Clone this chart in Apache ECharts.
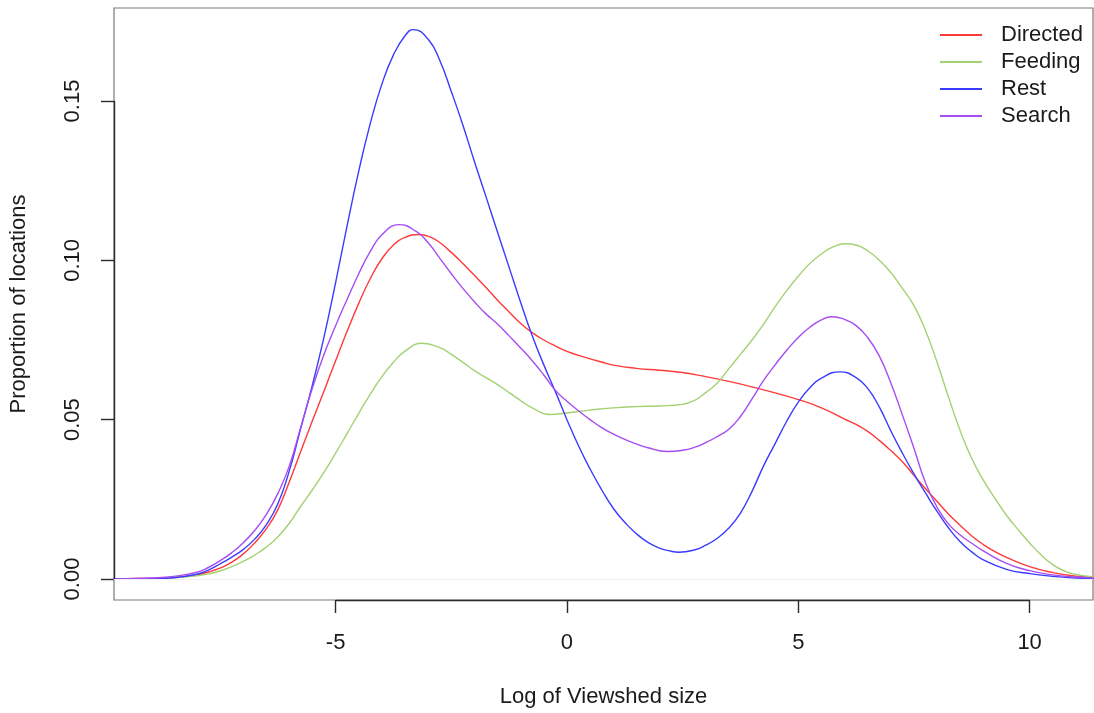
<!DOCTYPE html>
<html>
<head>
<meta charset="utf-8">
<script src="https://cdn.jsdelivr.net/npm/echarts@6/dist/echarts.min.js"></script>
<style>
  html, body { margin: 0; padding: 0; background: #fff; }
  #chart { width: 1094px; height: 713px; }
</style>
</head>
<body>
<div id="chart"></div>
<script>
// Kernel density estimates of log viewshed size, one curve per behaviour state.
// Each curve keeps its own sample positions so that its peaks and troughs are sampled exactly.
const directedX = [-10, -9.5, -9, -8.5, -8, -7.75, -7.5, -7.25, -7, -6.75, -6.5, -6.25, -6, -5.75, -5.5, -5.25, -5, -4.75, -4.5, -4.25, -4, -3.75, -3.5,
                   -3.2, -3, -2.75, -2.5, -2.25, -2, -1.75, -1.5, -1.25, -1, -0.75, -0.5, -0.25, 0, 0.25, 0.5, 0.75, 1,
                   1.5, 2, 2.5, 3, 3.5, 4, 4.5, 5, 5.5, 6,
                   6.25, 6.5, 6.75, 7, 7.25, 7.5, 7.75, 8, 8.25, 8.5, 8.75, 9, 9.25, 9.5, 10, 10.5, 11, 11.5];
const directedY = [0, 0.0001, 0.0002, 0.0005, 0.0013, 0.0022, 0.0034, 0.0052, 0.0078, 0.0113, 0.0157, 0.0217, 0.0305, 0.0402, 0.0497, 0.0590, 0.0685, 0.0778, 0.0865, 0.0943, 0.1005, 0.1048, 0.1072,
                   0.1081, 0.1076, 0.1056, 0.1025, 0.0990, 0.0953, 0.0915, 0.0875, 0.0838, 0.0802, 0.0773, 0.0750, 0.0731, 0.0714, 0.0702, 0.0691, 0.0681, 0.0671,
                   0.0661, 0.0655, 0.0648, 0.0635, 0.0620, 0.0603, 0.0584, 0.0563, 0.0537, 0.0502,
                   0.0485, 0.0463, 0.0435, 0.0403, 0.0368, 0.0325, 0.0283, 0.0243, 0.0203, 0.0168, 0.0135, 0.0108, 0.0086, 0.0068, 0.0039, 0.0020, 0.0009, 0.0004];

const feedingX = [-10, -9.5, -9, -8.5, -8, -7.75, -7.5, -7.25, -7, -6.75, -6.5, -6.25, -6, -5.75, -5.5, -5.25, -5, -4.75, -4.5, -4.25, -4, -3.75, -3.5,
                  -3.13, -2.75, -2.5, -2.25, -2, -1.75, -1.5, -1.25, -1, -0.75, -0.37, 0, 0.5, 1, 1.5, 2, 2.5,
                  2.75, 3, 3.25, 3.5, 3.75, 4, 4.25, 4.5, 4.75, 5, 5.25, 5.5, 5.75, 6.01,
                  6.25, 6.5, 6.75, 7, 7.25, 7.5, 7.75, 8, 8.25, 8.5, 8.75, 9, 9.25, 9.5, 9.75, 10, 10.25, 10.5, 10.75, 11, 11.5];
const feedingY = [0, 0, 0.0001, 0.0004, 0.0010, 0.0016, 0.0025, 0.0038, 0.0055, 0.0075, 0.0100, 0.0132, 0.0175, 0.0229, 0.0280, 0.0335, 0.0395, 0.0457, 0.0520, 0.0580, 0.0635, 0.0680, 0.0715,
                  0.0740, 0.0726, 0.0705, 0.0680, 0.0654, 0.0632, 0.0610, 0.0585, 0.0560, 0.0537, 0.0516, 0.0521, 0.0530, 0.0537, 0.0541, 0.0543, 0.0548,
                  0.0560, 0.0585, 0.0615, 0.0660, 0.0705, 0.0750, 0.0800, 0.0855, 0.0905, 0.0950, 0.0990, 0.1020, 0.1042, 0.1052,
                  0.1048, 0.1030, 0.1000, 0.0962, 0.0912, 0.0858, 0.0780, 0.0680, 0.0570, 0.0465, 0.0378, 0.0310, 0.0253, 0.0200, 0.0155, 0.0113, 0.0075, 0.0045, 0.0025, 0.0014, 0.0005];

const restX = [-10, -9.5, -9, -8.5, -8, -7.75, -7.5, -7.25, -7, -6.75, -6.5, -6.25, -6, -5.75, -5.5, -5.25, -5, -4.75, -4.5, -4.25, -4, -3.75, -3.5,
               -3.32, -3, -2.75, -2.5, -2.25, -2, -1.75, -1.5, -1.25, -1, -0.75, -0.5, -0.25, 0, 0.25, 0.5, 0.75, 1, 1.25, 1.5, 1.75, 2, 2.25,
               2.42, 2.75, 3, 3.25, 3.5, 3.75, 4, 4.25, 4.5, 4.75, 5, 5.25, 5.5,
               5.9, 6.25, 6.5, 6.75, 7, 7.25, 7.5, 7.75, 8, 8.25, 8.5, 8.75, 9, 9.5, 10, 10.5, 11, 11.5];
const restY = [0, 0, 0.0001, 0.0004, 0.0015, 0.0028, 0.0047, 0.0068, 0.0092, 0.0125, 0.0170, 0.0235, 0.0340, 0.0475, 0.0610, 0.0760, 0.0930, 0.1110, 0.1280, 0.1430, 0.1553, 0.1645, 0.1705,
               0.1724, 0.1694, 0.1628, 0.1530, 0.1425, 0.1310, 0.1200, 0.1088, 0.0978, 0.0868, 0.0763, 0.0672, 0.0588, 0.0500, 0.0418, 0.0345, 0.0280, 0.0222, 0.0178, 0.0142, 0.0115, 0.0097, 0.0087,
               0.0084, 0.0091, 0.0106, 0.0128, 0.0160, 0.0207, 0.0275, 0.0355, 0.0425, 0.0495, 0.0555, 0.0600, 0.0630,
               0.0650, 0.0632, 0.0598, 0.0540, 0.0465, 0.0395, 0.0330, 0.0270, 0.0212, 0.0160, 0.0117, 0.0085, 0.0060, 0.0030, 0.0017, 0.0008, 0.0003, 0.0001];

const searchX = [-10, -9.5, -9, -8.5, -8, -7.75, -7.5, -7.25, -7, -6.75, -6.5, -6.25, -6, -5.75, -5.5, -5.25, -5, -4.75, -4.5, -4.25, -4,
                 -3.63, -3.25, -3, -2.75, -2.5, -2.25, -2, -1.75, -1.5, -1.25, -1, -0.75, -0.5, -0.25, 0, 0.25, 0.5, 0.75, 1, 1.25, 1.5, 1.75,
                 2.16, 2.5, 2.75, 3, 3.25, 3.5, 3.75, 4, 4.25, 4.5, 4.75, 5, 5.25, 5.5,
                 5.72, 6, 6.25, 6.5, 6.75, 7, 7.25, 7.5, 7.75, 8, 8.25, 8.5, 8.75, 9, 9.5, 10, 10.5, 11, 11.5];
const searchY = [0, 0.0001, 0.0003, 0.0008, 0.0021, 0.0036, 0.0057, 0.0082, 0.0113, 0.0152, 0.0202, 0.0268, 0.0355, 0.0478, 0.0600, 0.0705, 0.0795, 0.0878, 0.0958, 0.1028, 0.1080,
                 0.1112, 0.1090, 0.1055, 0.1007, 0.0958, 0.0912, 0.0870, 0.0832, 0.0800, 0.0763, 0.0725, 0.0685, 0.0640, 0.0592, 0.0558, 0.0528, 0.0500, 0.0475, 0.0455, 0.0438, 0.0424, 0.0412,
                 0.0400, 0.0404, 0.0413, 0.0428, 0.0447, 0.0470, 0.0510, 0.0565, 0.0623, 0.0672, 0.0718, 0.0758, 0.0790, 0.0813,
                 0.0823, 0.0815, 0.0795, 0.0758, 0.0700, 0.0615, 0.0515, 0.0410, 0.0302, 0.0225, 0.0172, 0.0138, 0.0112, 0.0088, 0.0049, 0.0026, 0.0013, 0.0006, 0.0002];

const seriesNames = ['Directed', 'Feeding', 'Rest', 'Search'];
const seriesColors = ['#ff3a3a', '#a3d173', '#3b3bff', '#a64cf2'];
const xTicks = [-5, 0, 5, 10];
const yTicks = [0, 0.05, 0.10, 0.15];

const X_MIN = -9.79, X_MAX = 11.37;
const Y_MIN = -0.0066, Y_MAX = 0.1792;

const FONT = '"Liberation Sans", Arial, Helvetica, sans-serif';
const TEXT = '#1a1a1a';
const AXIS = '#2b2b2b';

const pairs = (xv, yv) => xv.map((x, i) => [x, yv[i]]);
const curves = [
  pairs(directedX, directedY),
  pairs(feedingX, feedingY),
  pairs(restX, restY),
  pairs(searchX, searchY)
];

const series = curves.map((data, i) => ({
  name: seriesNames[i],
  type: 'line',
  data: data,
  smooth: 0.5,
  symbol: 'none',
  clip: true,
  lineStyle: { color: seriesColors[i], width: 1.4 },
  itemStyle: { color: seriesColors[i] },
  z: 3
}));

// Axis segments spanning the labelled ticks, plus a faint zero reference line.
series[0].markLine = {
  silent: true,
  symbol: 'none',
  animation: false,
  label: { show: false },
  data: [
    [{ coord: [xTicks[0], Y_MIN], lineStyle: { color: AXIS, width: 1.4, type: 'solid' } },
     { coord: [xTicks[xTicks.length - 1], Y_MIN] }],
    [{ coord: [X_MIN, yTicks[0]], lineStyle: { color: AXIS, width: 1.4, type: 'solid' } },
     { coord: [X_MIN, yTicks[yTicks.length - 1]] }],
    [{ coord: [X_MIN, 0], lineStyle: { color: '#f0f0f0', width: 1, type: 'solid' } },
     { coord: [X_MAX, 0] }]
  ]
};

const chart = echarts.init(document.getElementById('chart'), null, { renderer: 'canvas' });
chart.setOption({
  animation: false,
  backgroundColor: '#ffffff',
  grid: {
    left: 114, top: 8, right: 1, bottom: 113,
    show: true, borderColor: '#7a7a7a', borderWidth: 1.2, backgroundColor: 'transparent'
  },
  legend: {
    orient: 'vertical',
    left: 935, top: 19,
    itemWidth: 42, itemHeight: 2, itemGap: 5,
    icon: 'rect',
    data: seriesNames,
    textStyle: { fontFamily: FONT, fontSize: 22, color: TEXT, padding: [0, 0, 0, 14], lineHeight: 22 }
  },
  xAxis: {
    type: 'value',
    min: X_MIN, max: X_MAX,
    name: 'Log of Viewshed size',
    nameLocation: 'middle',
    nameGap: 86,
    nameTextStyle: { fontFamily: FONT, fontSize: 22, color: TEXT },
    splitLine: { show: false },
    axisLine: { show: false, onZero: false },
    axisTick: { show: true, inside: false, customValues: xTicks, length: 13, lineStyle: { color: AXIS, width: 1.4 } },
    axisLabel: {
      customValues: xTicks, margin: 32,
      fontFamily: FONT, fontSize: 22, color: TEXT,
      formatter: v => String(v)
    }
  },
  yAxis: {
    type: 'value',
    min: Y_MIN, max: Y_MAX,
    name: 'Proportion of locations',
    nameLocation: 'middle',
    nameGap: 84,
    nameRotate: 90,
    nameTextStyle: { fontFamily: FONT, fontSize: 22, color: TEXT },
    splitLine: { show: false },
    axisLine: { show: false, onZero: false },
    axisTick: { show: true, inside: false, customValues: yTicks, length: 13, lineStyle: { color: AXIS, width: 1.4 } },
    axisLabel: {
      customValues: yTicks, margin: 30, rotate: 90,
      fontFamily: FONT, fontSize: 22, color: TEXT,
      formatter: v => v.toFixed(2)
    }
  },
  series: series
});
</script>
</body>
</html>
